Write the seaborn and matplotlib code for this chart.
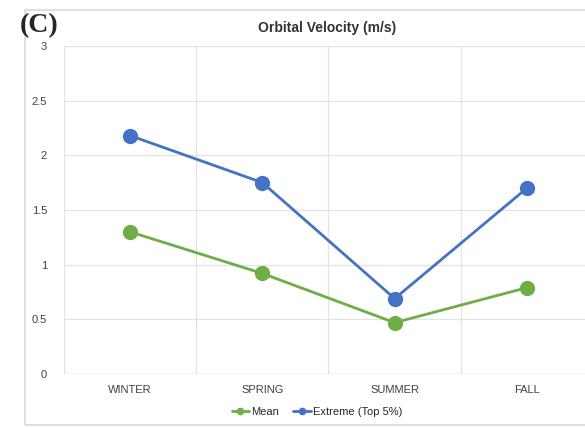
import numpy as np
import pandas as pd

import matplotlib.pyplot as plt
import seaborn as sns
from matplotlib.patches import Rectangle

## DATA
seasons = ['WINTER', 'SPRING', 'SUMMER', 'FALL']
mean_vel = [1.30, 0.92, 0.47, 0.79]
extreme_vel = [2.18, 1.75, 0.69, 1.70]
series_names = ['Mean', 'Extreme (Top 5%)']
series_colors = ['#70AD47', '#4472C4']

df = pd.DataFrame({
    'season': seasons * 2,
    'velocity': mean_vel + extreme_vel,
    'series': [series_names[0]] * len(seasons) + [series_names[1]] * len(seasons),
})

## PLOT
sns.set_style('white')
plt.rcParams['font.family'] = ['Liberation Sans', 'DejaVu Sans']

fig = plt.figure(figsize=(5.85, 4.28), dpi=100)
ax = fig.add_axes([0.109, 0.126, 0.905, 0.767])

# outer chart frame
fig.patches.append(Rectangle((0.043, 0.007), 1.0, 0.97, transform=fig.transFigure,
                             fill=False, edgecolor='#d9d9d9', linewidth=1.2))

sns.lineplot(data=df, x='season', y='velocity', hue='series', hue_order=series_names,
             palette=series_colors, marker='o', markersize=11, markeredgewidth=0,
             linewidth=2, sort=False, ax=ax)

ax.set_xlim(-0.5, 3.5)
ax.set_ylim(0, 3)
ax.set_yticks(np.arange(0, 3.01, 0.5))
ax.set_yticklabels(['0', '0.5', '1', '1.5', '2', '2.5', '3'])
ax.set_xticks(range(len(seasons)))
ax.set_xticklabels(seasons)
ax.set_xlabel('')
ax.set_ylabel('')
ax.tick_params(axis='both', labelsize=8, colors='#404040', length=0, pad=8)
ax.tick_params(axis='y', pad=12)

# gridlines: horizontal at ticks, vertical between categories
for yv in np.arange(0.5, 3.01, 0.5):
    ax.axhline(yv, color='#e3e3e3', linewidth=0.9, zorder=0)
for xv in np.arange(-0.5, 3.6, 1):
    ax.axvline(xv, color='#e3e3e3', linewidth=0.9, zorder=0)
ax.axhline(0, color='#cfcfcf', linewidth=1, zorder=0)
sns.despine(ax=ax, left=True, bottom=True, right=True, top=True)

ax.legend(loc='upper center', bbox_to_anchor=(0.478, -0.07), ncol=2, frameon=False,
          fontsize=8, handlelength=1.6, handletextpad=0.2, columnspacing=1.2,
          markerscale=0.5)

fig.text(0.56, 0.935, 'Orbital Velocity (m/s)', ha='center', va='center',
         fontsize=10, fontweight='bold', color='#333333')
fig.text(0.033, 0.94, '(C)', ha='left', va='center', fontsize=20,
         fontweight='bold', family=['Liberation Serif', 'DejaVu Serif'])

fig.savefig('out.png', dpi=100)
